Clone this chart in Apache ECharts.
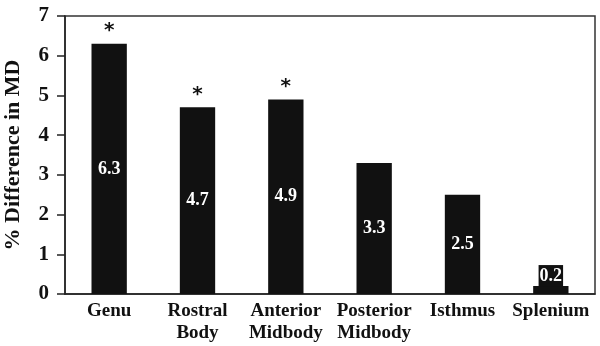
<!DOCTYPE html>
<html>
<head>
<meta charset="utf-8">
<script src="https://cdn.jsdelivr.net/npm/echarts@6/dist/echarts.min.js"></script>
<style>
  html, body { margin: 0; padding: 0; background: #fff; }
  #chart { width: 600px; height: 346px; }
</style>
</head>
<body>
<div id="chart"></div>
<script>
var categories = ['Genu', 'Rostral\nBody', 'Anterior\nMidbody', 'Posterior\nMidbody', 'Isthmus', 'Splenium'];
var values = [6.3, 4.7, 4.9, 3.3, 2.5, 0.2];
var significant = [true, true, true, false, false, false];
var yTicks = [0, 1, 2, 3, 4, 5, 6, 7];

var serif = 'Liberation Serif';
var barColor = '#111';

var chart = echarts.init(document.getElementById('chart'));

// small bars get their label on top, in a black box
var barData = values.map(function (v) {
  var d = { value: v };
  if (v < 0.5) {
    d.label = {
      position: 'top',
      distance: 0,
      backgroundColor: barColor,
      padding: [2, 1, 1, 1]
    };
  }
  return d;
});

var starData = values.map(function (v, i) {
  return { value: v, label: { show: significant[i] } };
});

var option = {
  animation: false,
  grid: {
    left: 65,
    right: 5,
    top: 16,
    bottom: 52,
    containLabel: false,
    outerBoundsMode: 'none',
    show: true,
    borderColor: '#333',
    borderWidth: 1.5
  },
  xAxis: {
    type: 'category',
    data: categories,
    axisLine: { lineStyle: { color: '#222', width: 1.5 } },
    axisTick: { show: false },
    axisLabel: {
      color: '#111',
      fontFamily: serif,
      fontWeight: 'bold',
      fontSize: 19,
      lineHeight: 22,
      margin: 6,
      interval: 0
    }
  },
  yAxis: {
    type: 'value',
    min: 0,
    max: 7,
    interval: 1,
    name: '% Difference in MD',
    nameLocation: 'middle',
    nameGap: 41,
    nameTextStyle: {
      color: '#111',
      fontFamily: serif,
      fontWeight: 'bold',
      fontSize: 22
    },
    splitLine: { show: false },
    axisLine: { show: true, lineStyle: { color: '#222', width: 1.5 } },
    axisTick: { show: true, length: 8, lineStyle: { color: '#222', width: 1.5 } },
    axisLabel: {
      color: '#111',
      fontFamily: serif,
      fontWeight: 'bold',
      fontSize: 21,
      margin: 16,
      formatter: function (v) { return yTicks.indexOf(v) >= 0 ? String(v) : ''; }
    }
  },
  series: [
    {
      type: 'bar',
      barWidth: '40%',
      itemStyle: { color: barColor },
      label: {
        show: true,
        position: 'inside',
        color: '#fff',
        fontFamily: serif,
        fontWeight: 'bold',
        fontSize: 18,
        formatter: function (p) { return p.value.toFixed(1); }
      },
      data: barData
    },
    {
      // transparent overlay carrying the significance stars
      type: 'bar',
      barWidth: '40%',
      barGap: '-100%',
      itemStyle: { color: 'rgba(0,0,0,0)' },
      silent: true,
      label: {
        position: 'top',
        distance: 3,
        color: '#111',
        fontFamily: 'DejaVu Sans',
        fontWeight: 'bold',
        fontSize: 20,
        formatter: '*'
      },
      data: starData
    }
  ]
};

chart.setOption(option);
</script>
</body>
</html>
